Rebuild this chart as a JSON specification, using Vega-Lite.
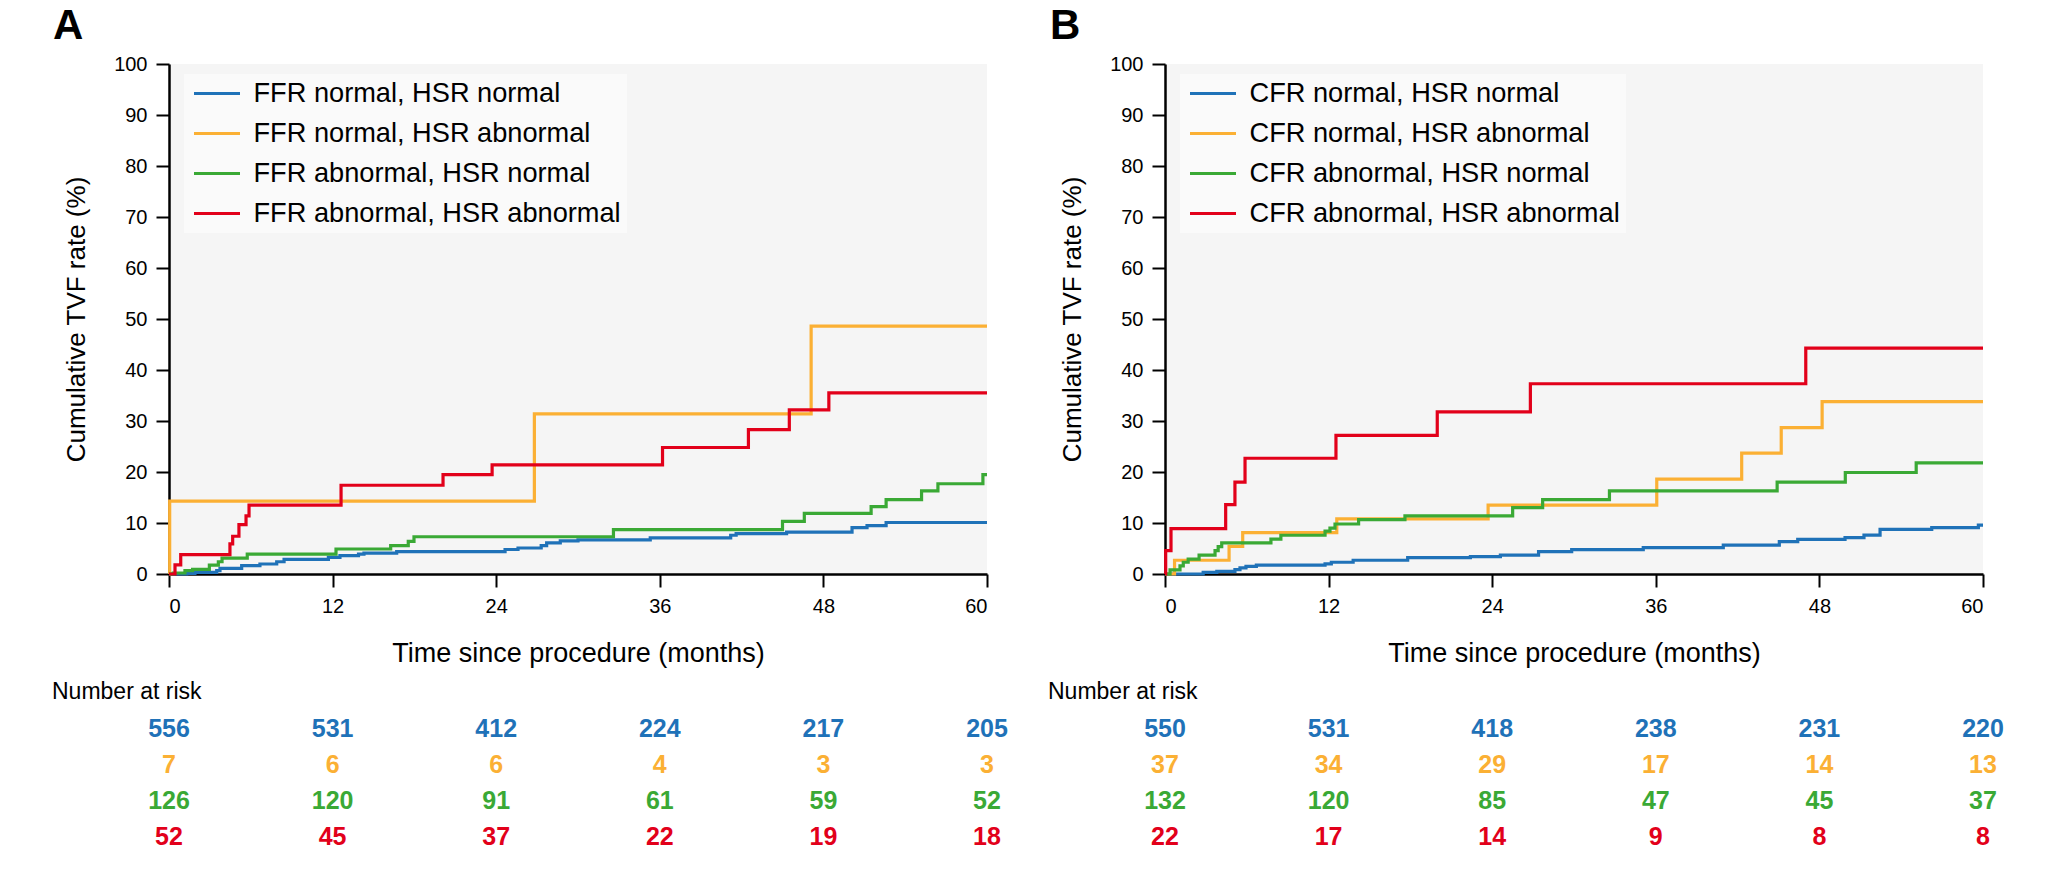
{
  "$schema": "https://vega.github.io/schema/vega-lite/v6.json",
  "background": "white",
  "padding": {"left": 52, "top": 5, "right": 0, "bottom": 0},
  "config": {
    "font": "Liberation Sans",
    "view": {"stroke": null},
    "axis": {
      "grid": false,
      "domainColor": "black",
      "domainWidth": 2.5,
      "tickColor": "black",
      "tickWidth": 2,
      "tickSize": 13,
      "labelFont": "Liberation Sans",
      "labelFontSize": 20,
      "labelColor": "black",
      "labelPadding": 9,
      "titleFont": "Liberation Sans",
      "titleFontSize": 27,
      "titleFontWeight": "normal",
      "titleColor": "black"
    },
    "legend": {
      "labelFont": "Liberation Sans",
      "labelFontSize": 27.2,
      "labelColor": "black",
      "labelLimit": 600,
      "symbolType": "stroke",
      "symbolSize": 2116,
      "symbolStrokeWidth": 3,
      "clipHeight": 27,
      "labelOffset": 12,
      "rowPadding": 12,
      "padding": 6,
      "symbolOffset": 2.5,
      "fillColor": "#fafafa"
    }
  },
  "datasets": {
    "kmA": [
      {"group": "FFR normal, HSR normal", "t": 0, "y": 0},
      {"group": "FFR normal, HSR normal", "t": 1.3, "y": 0.13},
      {"group": "FFR normal, HSR normal", "t": 1.9, "y": 0.33},
      {"group": "FFR normal, HSR normal", "t": 3.5, "y": 0.65},
      {"group": "FFR normal, HSR normal", "t": 3.74, "y": 1.1},
      {"group": "FFR normal, HSR normal", "t": 5.33, "y": 1.63},
      {"group": "FFR normal, HSR normal", "t": 6.67, "y": 1.96},
      {"group": "FFR normal, HSR normal", "t": 7.9, "y": 2.4},
      {"group": "FFR normal, HSR normal", "t": 8.44, "y": 2.87},
      {"group": "FFR normal, HSR normal", "t": 11.69, "y": 3.27},
      {"group": "FFR normal, HSR normal", "t": 12.54, "y": 3.6},
      {"group": "FFR normal, HSR normal", "t": 13.9, "y": 3.9},
      {"group": "FFR normal, HSR normal", "t": 14.3, "y": 4.1},
      {"group": "FFR normal, HSR normal", "t": 16.7, "y": 4.4},
      {"group": "FFR normal, HSR normal", "t": 24.65, "y": 4.8},
      {"group": "FFR normal, HSR normal", "t": 25.6, "y": 5.1},
      {"group": "FFR normal, HSR normal", "t": 27.3, "y": 5.55},
      {"group": "FFR normal, HSR normal", "t": 27.7, "y": 6.1},
      {"group": "FFR normal, HSR normal", "t": 28.7, "y": 6.5},
      {"group": "FFR normal, HSR normal", "t": 30.0, "y": 6.7},
      {"group": "FFR normal, HSR normal", "t": 35.3, "y": 7.1},
      {"group": "FFR normal, HSR normal", "t": 41.2, "y": 7.6},
      {"group": "FFR normal, HSR normal", "t": 41.6, "y": 7.9},
      {"group": "FFR normal, HSR normal", "t": 45.3, "y": 8.2},
      {"group": "FFR normal, HSR normal", "t": 50.1, "y": 9.1},
      {"group": "FFR normal, HSR normal", "t": 51.2, "y": 9.5},
      {"group": "FFR normal, HSR normal", "t": 52.6, "y": 10.1},
      {"group": "FFR normal, HSR normal", "t": 60, "y": 10.1},
      {"group": "FFR normal, HSR abnormal", "t": 0, "y": 0},
      {"group": "FFR normal, HSR abnormal", "t": 0.05, "y": 14.3},
      {"group": "FFR normal, HSR abnormal", "t": 26.8, "y": 31.4},
      {"group": "FFR normal, HSR abnormal", "t": 47.1, "y": 48.6},
      {"group": "FFR normal, HSR abnormal", "t": 60, "y": 48.6},
      {"group": "FFR abnormal, HSR normal", "t": 0, "y": 0},
      {"group": "FFR abnormal, HSR normal", "t": 0.32, "y": 0.2},
      {"group": "FFR abnormal, HSR normal", "t": 1.17, "y": 0.65},
      {"group": "FFR abnormal, HSR normal", "t": 1.73, "y": 0.9},
      {"group": "FFR abnormal, HSR normal", "t": 2.96, "y": 1.75},
      {"group": "FFR abnormal, HSR normal", "t": 3.62, "y": 2.4},
      {"group": "FFR abnormal, HSR normal", "t": 3.89, "y": 3.1},
      {"group": "FFR abnormal, HSR normal", "t": 5.74, "y": 3.9},
      {"group": "FFR abnormal, HSR normal", "t": 12.25, "y": 4.9},
      {"group": "FFR abnormal, HSR normal", "t": 16.26, "y": 5.55},
      {"group": "FFR abnormal, HSR normal", "t": 17.55, "y": 6.4},
      {"group": "FFR abnormal, HSR normal", "t": 17.97, "y": 7.3},
      {"group": "FFR abnormal, HSR normal", "t": 32.6, "y": 8.7},
      {"group": "FFR abnormal, HSR normal", "t": 45.0, "y": 10.3},
      {"group": "FFR abnormal, HSR normal", "t": 46.6, "y": 11.9},
      {"group": "FFR abnormal, HSR normal", "t": 51.5, "y": 13.2},
      {"group": "FFR abnormal, HSR normal", "t": 52.6, "y": 14.6},
      {"group": "FFR abnormal, HSR normal", "t": 55.2, "y": 16.3},
      {"group": "FFR abnormal, HSR normal", "t": 56.4, "y": 17.7},
      {"group": "FFR abnormal, HSR normal", "t": 59.7, "y": 19.5},
      {"group": "FFR abnormal, HSR normal", "t": 60, "y": 19.5},
      {"group": "FFR abnormal, HSR abnormal", "t": 0, "y": 0},
      {"group": "FFR abnormal, HSR abnormal", "t": 0.44, "y": 1.8},
      {"group": "FFR abnormal, HSR abnormal", "t": 0.86, "y": 3.8},
      {"group": "FFR abnormal, HSR abnormal", "t": 4.47, "y": 5.9},
      {"group": "FFR abnormal, HSR abnormal", "t": 4.67, "y": 7.4},
      {"group": "FFR abnormal, HSR abnormal", "t": 5.13, "y": 9.7},
      {"group": "FFR abnormal, HSR abnormal", "t": 5.65, "y": 11.4},
      {"group": "FFR abnormal, HSR abnormal", "t": 5.87, "y": 13.5},
      {"group": "FFR abnormal, HSR abnormal", "t": 12.62, "y": 17.4},
      {"group": "FFR abnormal, HSR abnormal", "t": 20.1, "y": 19.5},
      {"group": "FFR abnormal, HSR abnormal", "t": 23.7, "y": 21.4},
      {"group": "FFR abnormal, HSR abnormal", "t": 36.2, "y": 24.8},
      {"group": "FFR abnormal, HSR abnormal", "t": 42.5, "y": 28.3},
      {"group": "FFR abnormal, HSR abnormal", "t": 45.5, "y": 32.2},
      {"group": "FFR abnormal, HSR abnormal", "t": 48.4, "y": 35.5},
      {"group": "FFR abnormal, HSR abnormal", "t": 60, "y": 35.5}
    ],
    "kmB": [
      {"group": "CFR normal, HSR normal", "t": 0, "y": 0},
      {"group": "CFR normal, HSR normal", "t": 2.8, "y": 0.33},
      {"group": "CFR normal, HSR normal", "t": 3.8, "y": 0.5},
      {"group": "CFR normal, HSR normal", "t": 5.13, "y": 0.85},
      {"group": "CFR normal, HSR normal", "t": 5.5, "y": 1.2},
      {"group": "CFR normal, HSR normal", "t": 5.94, "y": 1.5},
      {"group": "CFR normal, HSR normal", "t": 6.7, "y": 1.75},
      {"group": "CFR normal, HSR normal", "t": 11.74, "y": 2.0},
      {"group": "CFR normal, HSR normal", "t": 12.2, "y": 2.3},
      {"group": "CFR normal, HSR normal", "t": 13.8, "y": 2.7},
      {"group": "CFR normal, HSR normal", "t": 17.8, "y": 3.2},
      {"group": "CFR normal, HSR normal", "t": 22.4, "y": 3.4},
      {"group": "CFR normal, HSR normal", "t": 24.6, "y": 3.7},
      {"group": "CFR normal, HSR normal", "t": 27.4, "y": 4.4},
      {"group": "CFR normal, HSR normal", "t": 29.83, "y": 4.76},
      {"group": "CFR normal, HSR normal", "t": 35.08, "y": 5.16},
      {"group": "CFR normal, HSR normal", "t": 40.95, "y": 5.68},
      {"group": "CFR normal, HSR normal", "t": 45.06, "y": 6.33},
      {"group": "CFR normal, HSR normal", "t": 46.41, "y": 6.79},
      {"group": "CFR normal, HSR normal", "t": 49.88, "y": 7.12},
      {"group": "CFR normal, HSR normal", "t": 51.27, "y": 7.64},
      {"group": "CFR normal, HSR normal", "t": 52.45, "y": 8.75},
      {"group": "CFR normal, HSR normal", "t": 56.24, "y": 9.08},
      {"group": "CFR normal, HSR normal", "t": 59.66, "y": 9.6},
      {"group": "CFR normal, HSR normal", "t": 60, "y": 9.6},
      {"group": "CFR normal, HSR abnormal", "t": 0, "y": 0},
      {"group": "CFR normal, HSR abnormal", "t": 0.7, "y": 2.7},
      {"group": "CFR normal, HSR abnormal", "t": 4.7, "y": 5.4},
      {"group": "CFR normal, HSR abnormal", "t": 5.7, "y": 8.1},
      {"group": "CFR normal, HSR abnormal", "t": 12.6, "y": 10.8},
      {"group": "CFR normal, HSR abnormal", "t": 23.7, "y": 13.5},
      {"group": "CFR normal, HSR abnormal", "t": 36.07, "y": 18.6},
      {"group": "CFR normal, HSR abnormal", "t": 42.3, "y": 23.7},
      {"group": "CFR normal, HSR abnormal", "t": 45.2, "y": 28.7},
      {"group": "CFR normal, HSR abnormal", "t": 48.2, "y": 33.8},
      {"group": "CFR normal, HSR abnormal", "t": 60, "y": 33.8},
      {"group": "CFR abnormal, HSR normal", "t": 0, "y": 0},
      {"group": "CFR abnormal, HSR normal", "t": 0.37, "y": 0.8},
      {"group": "CFR abnormal, HSR normal", "t": 1.1, "y": 1.6},
      {"group": "CFR abnormal, HSR normal", "t": 1.34, "y": 2.3},
      {"group": "CFR abnormal, HSR normal", "t": 1.7, "y": 2.9},
      {"group": "CFR abnormal, HSR normal", "t": 2.5, "y": 3.7},
      {"group": "CFR abnormal, HSR normal", "t": 3.67, "y": 4.6},
      {"group": "CFR abnormal, HSR normal", "t": 3.9, "y": 5.35},
      {"group": "CFR abnormal, HSR normal", "t": 4.16, "y": 6.1},
      {"group": "CFR abnormal, HSR normal", "t": 7.77, "y": 6.85},
      {"group": "CFR abnormal, HSR normal", "t": 8.5, "y": 7.6},
      {"group": "CFR abnormal, HSR normal", "t": 11.74, "y": 8.4},
      {"group": "CFR abnormal, HSR normal", "t": 12.1, "y": 9.0},
      {"group": "CFR abnormal, HSR normal", "t": 12.47, "y": 9.8},
      {"group": "CFR abnormal, HSR normal", "t": 14.2, "y": 10.65},
      {"group": "CFR abnormal, HSR normal", "t": 17.6, "y": 11.4},
      {"group": "CFR abnormal, HSR normal", "t": 25.5, "y": 13.0},
      {"group": "CFR abnormal, HSR normal", "t": 27.7, "y": 14.6},
      {"group": "CFR abnormal, HSR normal", "t": 32.6, "y": 16.3},
      {"group": "CFR abnormal, HSR normal", "t": 44.9, "y": 18.0},
      {"group": "CFR abnormal, HSR normal", "t": 49.9, "y": 19.9},
      {"group": "CFR abnormal, HSR normal", "t": 55.1, "y": 21.8},
      {"group": "CFR abnormal, HSR normal", "t": 60, "y": 21.8},
      {"group": "CFR abnormal, HSR abnormal", "t": 0, "y": 0},
      {"group": "CFR abnormal, HSR abnormal", "t": 0.05, "y": 4.6},
      {"group": "CFR abnormal, HSR abnormal", "t": 0.44, "y": 8.9},
      {"group": "CFR abnormal, HSR abnormal", "t": 4.45, "y": 13.6},
      {"group": "CFR abnormal, HSR abnormal", "t": 5.13, "y": 18.0},
      {"group": "CFR abnormal, HSR abnormal", "t": 5.87, "y": 22.7},
      {"group": "CFR abnormal, HSR abnormal", "t": 12.54, "y": 27.2},
      {"group": "CFR abnormal, HSR abnormal", "t": 19.97, "y": 31.8},
      {"group": "CFR abnormal, HSR abnormal", "t": 26.8, "y": 37.3},
      {"group": "CFR abnormal, HSR abnormal", "t": 47.0, "y": 44.3},
      {"group": "CFR abnormal, HSR abnormal", "t": 60, "y": 44.3}
    ],
    "riskA": [
      {"group": "FFR normal, HSR normal", "t": 0, "n": 556},
      {"group": "FFR normal, HSR normal", "t": 12, "n": 531},
      {"group": "FFR normal, HSR normal", "t": 24, "n": 412},
      {"group": "FFR normal, HSR normal", "t": 36, "n": 224},
      {"group": "FFR normal, HSR normal", "t": 48, "n": 217},
      {"group": "FFR normal, HSR normal", "t": 60, "n": 205},
      {"group": "FFR normal, HSR abnormal", "t": 0, "n": 7},
      {"group": "FFR normal, HSR abnormal", "t": 12, "n": 6},
      {"group": "FFR normal, HSR abnormal", "t": 24, "n": 6},
      {"group": "FFR normal, HSR abnormal", "t": 36, "n": 4},
      {"group": "FFR normal, HSR abnormal", "t": 48, "n": 3},
      {"group": "FFR normal, HSR abnormal", "t": 60, "n": 3},
      {"group": "FFR abnormal, HSR normal", "t": 0, "n": 126},
      {"group": "FFR abnormal, HSR normal", "t": 12, "n": 120},
      {"group": "FFR abnormal, HSR normal", "t": 24, "n": 91},
      {"group": "FFR abnormal, HSR normal", "t": 36, "n": 61},
      {"group": "FFR abnormal, HSR normal", "t": 48, "n": 59},
      {"group": "FFR abnormal, HSR normal", "t": 60, "n": 52},
      {"group": "FFR abnormal, HSR abnormal", "t": 0, "n": 52},
      {"group": "FFR abnormal, HSR abnormal", "t": 12, "n": 45},
      {"group": "FFR abnormal, HSR abnormal", "t": 24, "n": 37},
      {"group": "FFR abnormal, HSR abnormal", "t": 36, "n": 22},
      {"group": "FFR abnormal, HSR abnormal", "t": 48, "n": 19},
      {"group": "FFR abnormal, HSR abnormal", "t": 60, "n": 18}
    ],
    "riskB": [
      {"group": "CFR normal, HSR normal", "t": 0, "n": 550},
      {"group": "CFR normal, HSR normal", "t": 12, "n": 531},
      {"group": "CFR normal, HSR normal", "t": 24, "n": 418},
      {"group": "CFR normal, HSR normal", "t": 36, "n": 238},
      {"group": "CFR normal, HSR normal", "t": 48, "n": 231},
      {"group": "CFR normal, HSR normal", "t": 60, "n": 220},
      {"group": "CFR normal, HSR abnormal", "t": 0, "n": 37},
      {"group": "CFR normal, HSR abnormal", "t": 12, "n": 34},
      {"group": "CFR normal, HSR abnormal", "t": 24, "n": 29},
      {"group": "CFR normal, HSR abnormal", "t": 36, "n": 17},
      {"group": "CFR normal, HSR abnormal", "t": 48, "n": 14},
      {"group": "CFR normal, HSR abnormal", "t": 60, "n": 13},
      {"group": "CFR abnormal, HSR normal", "t": 0, "n": 132},
      {"group": "CFR abnormal, HSR normal", "t": 12, "n": 120},
      {"group": "CFR abnormal, HSR normal", "t": 24, "n": 85},
      {"group": "CFR abnormal, HSR normal", "t": 36, "n": 47},
      {"group": "CFR abnormal, HSR normal", "t": 48, "n": 45},
      {"group": "CFR abnormal, HSR normal", "t": 60, "n": 37},
      {"group": "CFR abnormal, HSR abnormal", "t": 0, "n": 22},
      {"group": "CFR abnormal, HSR abnormal", "t": 12, "n": 17},
      {"group": "CFR abnormal, HSR abnormal", "t": 24, "n": 14},
      {"group": "CFR abnormal, HSR abnormal", "t": 36, "n": 9},
      {"group": "CFR abnormal, HSR abnormal", "t": 48, "n": 8},
      {"group": "CFR abnormal, HSR abnormal", "t": 60, "n": 8}
    ]
  },
  "hconcat": [
    {
      "title": {"text": "A", "anchor": "start", "frame": "group", "font": "Liberation Sans", "fontSize": 42, "fontWeight": "bold", "color": "black", "dx": -116, "offset": 6},
      "spacing": 14.5,
      "resolve": {"scale": {"color": "independent", "x": "independent", "y": "independent"}},
      "vconcat": [
        {
          "width": 818,
          "height": 510,
          "view": {"fill": "#f5f5f5", "stroke": null},
          "data": {"name": "kmA"},
          "mark": {"type": "line", "interpolate": "step-after", "strokeWidth": 3.2},
          "encoding": {
            "x": {"field": "t", "type": "quantitative", "scale": {"domain": [0, 60], "nice": false},
                  "axis": {"values": [0, 12, 24, 36, 48, 60], "title": "Time since procedure (months)", "titlePadding": 24}},
            "y": {"field": "y", "type": "quantitative", "scale": {"domain": [0, 100], "nice": false},
                  "axis": {"values": [0, 10, 20, 30, 40, 50, 60, 70, 80, 90, 100], "title": "Cumulative TVF rate (%)", "titleFontSize": 26, "titlePadding": 24}},
            "color": {"field": "group", "type": "nominal",
                      "scale": {"domain": ["FFR normal, HSR normal", "FFR normal, HSR abnormal", "FFR abnormal, HSR normal", "FFR abnormal, HSR abnormal"],
                                "range": ["#1f72b8", "#fbb034", "#3aa935", "#e2001a"]},
                      "legend": {"title": null, "orient": "none", "legendX": 15, "legendY": 10}}
          }
        },
        {
          "width": 818,
          "height": 144,
          "title": {"text": "Number at risk", "anchor": "start", "frame": "group", "font": "Liberation Sans", "fontSize": 23, "fontWeight": "normal", "color": "black", "dx": -117, "offset": 7},
          "data": {"name": "riskA"},
          "mark": {"type": "text", "font": "Liberation Sans", "fontSize": 25, "fontWeight": "bold"},
          "encoding": {
            "x": {"field": "t", "type": "quantitative", "scale": {"domain": [0, 60], "nice": false}, "axis": null},
            "y": {"field": "group", "type": "nominal", "sort": ["FFR normal, HSR normal", "FFR normal, HSR abnormal", "FFR abnormal, HSR normal", "FFR abnormal, HSR abnormal"], "axis": null},
            "text": {"field": "n", "type": "quantitative"},
            "color": {"field": "group", "type": "nominal",
                      "scale": {"domain": ["FFR normal, HSR normal", "FFR normal, HSR abnormal", "FFR abnormal, HSR normal", "FFR abnormal, HSR abnormal"],
                                "range": ["#1f72b8", "#fbb034", "#3aa935", "#e2001a"]},
                      "legend": null}
          }
        }
      ]
    },
    {
      "title": {"text": "B", "anchor": "start", "frame": "group", "font": "Liberation Sans", "fontSize": 42, "fontWeight": "bold", "color": "black", "dx": -115, "offset": 6},
      "spacing": 14.5,
      "resolve": {"scale": {"color": "independent", "x": "independent", "y": "independent"}},
      "vconcat": [
        {
          "width": 818,
          "height": 510,
          "view": {"fill": "#f5f5f5", "stroke": null},
          "data": {"name": "kmB"},
          "mark": {"type": "line", "interpolate": "step-after", "strokeWidth": 3.2},
          "encoding": {
            "x": {"field": "t", "type": "quantitative", "scale": {"domain": [0, 60], "nice": false},
                  "axis": {"values": [0, 12, 24, 36, 48, 60], "title": "Time since procedure (months)", "titlePadding": 24}},
            "y": {"field": "y", "type": "quantitative", "scale": {"domain": [0, 100], "nice": false},
                  "axis": {"values": [0, 10, 20, 30, 40, 50, 60, 70, 80, 90, 100], "title": "Cumulative TVF rate (%)", "titleFontSize": 26, "titlePadding": 24}},
            "color": {"field": "group", "type": "nominal",
                      "scale": {"domain": ["CFR normal, HSR normal", "CFR normal, HSR abnormal", "CFR abnormal, HSR normal", "CFR abnormal, HSR abnormal"],
                                "range": ["#1f72b8", "#fbb034", "#3aa935", "#e2001a"]},
                      "legend": {"title": null, "orient": "none", "legendX": 15, "legendY": 10}}
          }
        },
        {
          "width": 818,
          "height": 144,
          "title": {"text": "Number at risk", "anchor": "start", "frame": "group", "font": "Liberation Sans", "fontSize": 23, "fontWeight": "normal", "color": "black", "dx": -117, "offset": 7},
          "data": {"name": "riskB"},
          "mark": {"type": "text", "font": "Liberation Sans", "fontSize": 25, "fontWeight": "bold"},
          "encoding": {
            "x": {"field": "t", "type": "quantitative", "scale": {"domain": [0, 60], "nice": false}, "axis": null},
            "y": {"field": "group", "type": "nominal", "sort": ["CFR normal, HSR normal", "CFR normal, HSR abnormal", "CFR abnormal, HSR normal", "CFR abnormal, HSR abnormal"], "axis": null},
            "text": {"field": "n", "type": "quantitative"},
            "color": {"field": "group", "type": "nominal",
                      "scale": {"domain": ["CFR normal, HSR normal", "CFR normal, HSR abnormal", "CFR abnormal, HSR normal", "CFR abnormal, HSR abnormal"],
                                "range": ["#1f72b8", "#fbb034", "#3aa935", "#e2001a"]},
                      "legend": null}
          }
        }
      ]
    }
  ],
  "spacing": 40,
  "resolve": {"scale": {"color": "independent", "x": "independent", "y": "independent"}}
}
